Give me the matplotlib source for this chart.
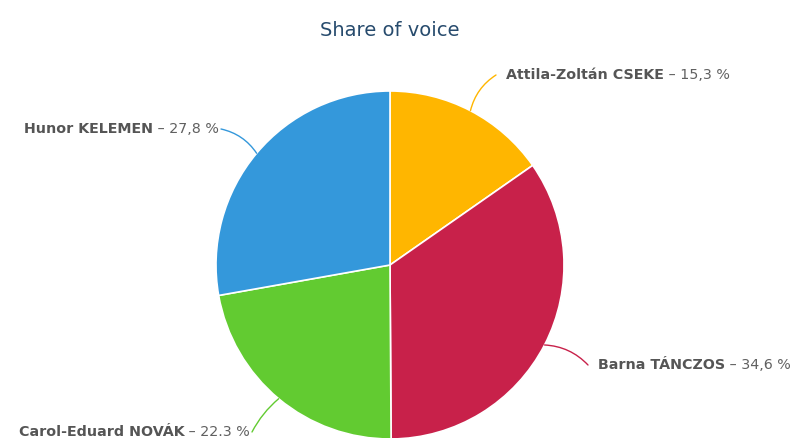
import numpy as np
import matplotlib
matplotlib.use("Agg")
from matplotlib import pyplot as plt

names = ['Attila-Zoltán CSEKE', 'Barna TÁNCZOS', 'Carol-Eduard NOVÁK', 'Hunor KELEMEN']
shares = [15.3, 34.6, 22.3, 27.8]
share_labels = ['15,3 %', '34,6 %', '22.3 %', '27,8 %']
colors = ['#FFB600', '#C8214A', '#62CB31', '#3498DB']

# label text anchor (pixels, top-left origin), alignment and connector curvature
label_pos = [(506, 75, 'left', 0.2), (598, 365, 'left', 0.2),
             (250, 432, 'right', -0.1), (219, 129, 'right', -0.2)]

W, H = 799, 438
fig = plt.figure(figsize=(W / 100, H / 100), dpi=100)
ax = fig.add_axes([0, 0, 1, 1])

cx, cy, r = 390, H - 265, 174
wedges, _ = ax.pie(shares, colors=colors, startangle=90, counterclock=False,
                   center=(cx, cy), radius=r,
                   wedgeprops=dict(edgecolor='white', linewidth=1.2))
ax.set_xlim(0, W)
ax.set_ylim(0, H)
ax.set_aspect('equal')
ax.axis('off')

fig.text(390 / W, 1 - 30 / H, 'Share of voice', ha='center', va='center',
         fontsize=14, color='#274b6d')

fs = 10.3
fig.canvas.draw()
renderer = fig.canvas.get_renderer()
for w, name, val, col, (lx, ly, ha, rad) in zip(wedges, names, share_labels, colors, label_pos):
    mid = np.deg2rad((w.theta1 + w.theta2) / 2)
    px, py = cx + r * np.cos(mid), cy + r * np.sin(mid)
    ty = H - ly
    if ha == 'left':
        end = (lx - 10, ty)
    else:
        end = (lx + 2, ty)
    ax.annotate('', xy=(px, py), xytext=end,
                arrowprops=dict(arrowstyle='-', color=col, lw=1,
                                connectionstyle='arc3,rad=%s' % rad,
                                shrinkA=0, shrinkB=0))
    tail = ' \u2013 ' + val
    if ha == 'left':
        t1 = ax.text(lx, ty, name, ha='left', va='center', fontsize=fs,
                     fontweight='bold', color='#555555')
        bb = t1.get_window_extent(renderer)
        ax.text(bb.x1, ty, tail, ha='left', va='center', fontsize=fs, color='#606060')
    else:
        t2 = ax.text(lx, ty, tail, ha='right', va='center', fontsize=fs, color='#606060')
        bb = t2.get_window_extent(renderer)
        ax.text(bb.x0, ty, name, ha='right', va='center', fontsize=fs,
                fontweight='bold', color='#555555')

fig.savefig('out.png', dpi=100)
